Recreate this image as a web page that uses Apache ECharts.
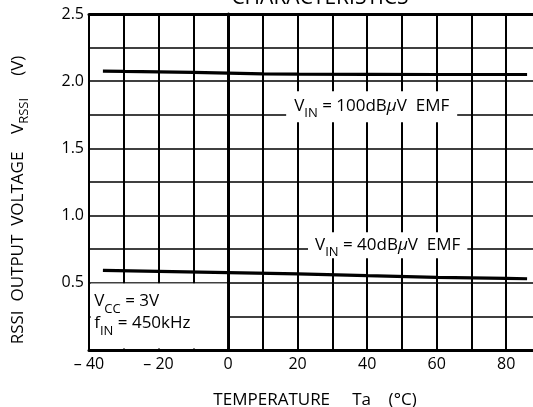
<!DOCTYPE html>
<html>
<head>
<meta charset="utf-8">
<script src="https://cdn.jsdelivr.net/npm/echarts@6/dist/echarts.min.js"></script>
<style>
html,body{margin:0;padding:0;background:#fff;}
#c{width:533px;height:407px;}
</style>
</head>
<body>
<div id="c"></div>
<script>
// ---- data ----
const temps100 = [-36, -30, -20, -10, 0, 10, 20, 40, 60, 80, 86];
const vrssi100 = [2.075, 2.073, 2.07, 2.065, 2.06, 2.055, 2.052, 2.051, 2.05, 2.05, 2.05];
const temps40 = [-36, -20, 0, 20, 40, 60, 80, 86];
const vrssi40 = [0.592, 0.585, 0.576, 0.566, 0.553, 0.541, 0.533, 0.53];
const xTickValues = [-40, -20, 0, 20, 40, 60, 80];
const xTickLabels = ['\u2013 40', '\u2013 20', '0', '20', '40', '60', '80'];
const yTickValues = [0.5, 1.0, 1.5, 2.0, 2.5];
const yTickLabels = ['0.5', '1.0', '1.5', '2.0', '2.5'];
const titleText = 'CHARACTERISTICS';
const label100 = '{n|V}{s|IN}{n| = 100dB}{mu|\u03bc}{n|V  EMF}';
const label40 = '{n|V}{s|IN}{n| = 40dB}{mu|\u03bc}{n|V  EMF}';
const labelCond = '{n|V}{s|CC}{n| = 3V}\n{n|f}{s|IN}{n| = 450kHz}';

const FONT = '"Open Sans", "DejaVu Sans", sans-serif';
const richStyles = {
  n: {fontFamily: FONT, fontSize: 17, color: '#000', lineHeight: 22, verticalAlign: 'middle'},
  s: {fontFamily: FONT, fontSize: 13, color: '#000', lineHeight: 22, verticalAlign: 'bottom', padding: [0, 0, -3, 0]},
  mu: {fontFamily: FONT, fontSize: 17, color: '#000', lineHeight: 22, fontStyle: 'italic', verticalAlign: 'middle'}
};

const chart = echarts.init(document.getElementById('c'), null, {renderer: 'canvas'});
const option = {
  animation: false,
  backgroundColor: '#fff',
  title: {
    text: titleText,
    left: 315, textAlign: 'center',
    top: -17,
    textStyle: {fontFamily: FONT, fontSize: 21, fontWeight: 'normal', color: '#000'}
  },
  grid: {
    left: 89, top: 14, width: 452, height: 336, show: false,
    containLabel: false, outerBoundsMode: 'none'
  },
  xAxis: [{
    type: 'value', min: -40, max: 90, interval: 10,
    name: 'TEMPERATURE     Ta    (\u00b0C)',
    nameLocation: 'middle', nameGap: 42,
    nameTextStyle: {fontFamily: FONT, fontSize: 17, color: '#000'},
    axisLine: {show: true, onZero: false, lineStyle: {color: '#000', width: 3}},
    axisTick: {show: false},
    axisLabel: {
      fontFamily: FONT, fontSize: 16, color: '#000', margin: 6,
      formatter: v => { const i = xTickValues.indexOf(v); return i >= 0 ? xTickLabels[i] : ''; }
    },
    splitLine: {show: true, showMaxLine: false, lineStyle: {color: '#000', width: 2}}
  }, {
    type: 'value', min: -40, max: 90, interval: 10, position: 'top',
    axisLine: {show: true, onZero: false, lineStyle: {color: '#000', width: 3}},
    axisTick: {show: false}, axisLabel: {show: false}, splitLine: {show: false}
  }],
  yAxis: {
    type: 'value', min: 0, max: 2.5, interval: 0.25,
    name: '{n|RSSI  OUTPUT  VOLTAGE    V}{s|RSSI}{n|     (V)}',
    nameLocation: 'middle', nameGap: 60, nameRotate: 90,
    nameTextStyle: {
      padding: [0, 36, 0, 0],
      rich: {
        n: {fontFamily: FONT, fontSize: 17, color: '#000', lineHeight: 22, verticalAlign: 'middle'},
        s: {fontFamily: FONT, fontSize: 13, color: '#000', lineHeight: 22, verticalAlign: 'bottom', padding: [0, 0, -2, 0]}
      }
    },
    axisLine: {show: true, lineStyle: {color: '#000', width: 3}},
    axisTick: {show: false},
    axisLabel: {
      fontFamily: FONT, fontSize: 16, color: '#000', margin: 5,
      formatter: v => { const i = yTickValues.findIndex(t => Math.abs(t - v) < 1e-6); return i >= 0 ? yTickLabels[i] : ''; }
    },
    splitLine: {show: true, lineStyle: {color: '#000', width: 1.5}}
  },
  series: [
    {
      name: '100dB', type: 'line', symbol: 'none', silent: true,
      data: temps100.map((t, i) => [t, vrssi100[i]]),
      lineStyle: {color: '#000', width: 3.2},
      markPoint: {
        symbol: 'rect', symbolSize: 0, silent: true,
        data: [{
          coord: [41.3, 1.81],
          label: {
            show: true, position: 'inside', formatter: label100, rich: richStyles,
            backgroundColor: '#fff', padding: [4, 8, 5, 8]
          }
        }, {
          coord: [45.9, 0.78],
          label: {
            show: true, position: 'inside', formatter: label40, rich: richStyles,
            backgroundColor: '#fff', padding: [2, 7, 2, 7]
          }
        }]
      }
    },
    {
      name: '40dB', type: 'line', symbol: 'none', silent: true,
      data: temps40.map((t, i) => [t, vrssi40[i]]),
      lineStyle: {color: '#000', width: 3.2},
      markArea: {
        silent: true,
        itemStyle: {color: '#fff', opacity: 1},
        data: [[{coord: [-39.5, 0.012]}, {coord: [-0.3, 0.495]}]]
      },
      markPoint: {
        symbol: 'rect', symbolSize: 0, silent: true,
        data: [{
          coord: [-38.5, 0.28],
          label: {
            show: true, position: 'inside', align: 'left', formatter: labelCond, rich: richStyles
          }
        }]
      }
    }
  ]
};
chart.setOption(option);
</script>
</body>
</html>
